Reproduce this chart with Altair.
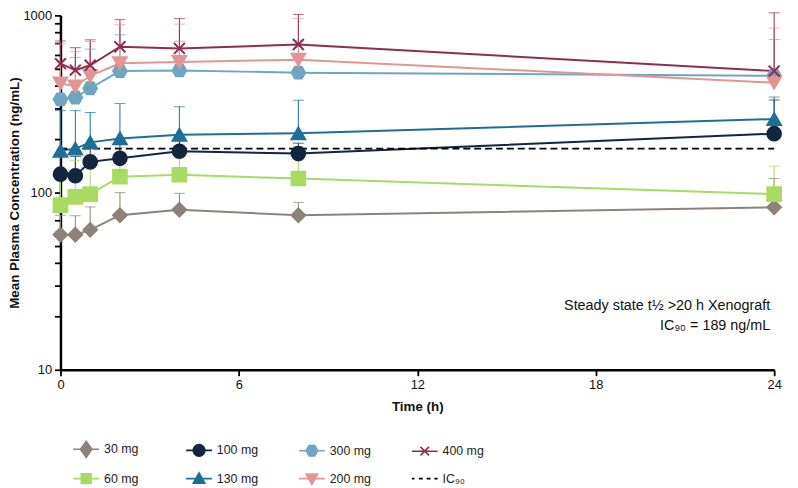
import altair as alt
import pandas as pd

# ---------------- data ----------------
times = [0, 0.5, 1, 2, 4, 8, 24]
dose_labels = ["30 mg", "60 mg", "100 mg", "130 mg", "200 mg", "300 mg", "400 mg"]

mean_30 = [57.8, 57.8, 61.6, 74.5, 80, 74.5, 82.6]
upper_30 = [74.5, 74, 83, 100, 99, 88, 120]
mean_60 = [85, 94.6, 98, 123, 126, 120, 98]
upper_60 = [130, 152, 165, 180, 195, 182, 141]
mean_100 = [127, 124.5, 149, 156, 171, 166, 215]
upper_100 = [165, 160, 180, 190, 200, 190, 333]
mean_130 = [172, 177, 192, 202, 212, 216, 260]
upper_130 = [290, 290, 283, 318, 305, 332, 346]
mean_200 = [413, 398, 456, 537, 546, 562, 417]
upper_200 = [690, 624, 712, 885, 893, 959, 848]
mean_300 = [336, 344, 388, 485, 489, 475, 456]
upper_300 = [420, 579, 645, 777, 714, 723, 730]
mean_400 = [534, 491, 523, 665, 651, 685, 485]
upper_400 = [717, 657, 728, 946, 959, 1012, 1034]

ic90_line = [177]
note_text = "Steady state t½ >20 h Xenograft\nIC₉₀ = 189 ng/mL"
ic90_label = "IC₉₀"

y_ticks = [10, 20, 30, 40, 50, 60, 70, 80, 90, 100, 200, 300, 400, 500, 600, 700, 800, 900, 1000]
x_ticks = [0, 6, 12, 18, 24]

colors = ["#8C8279", "#A9DB62", "#13263D", "#1D6F98", "#E39595", "#6EA5BF", "#8F2D50"]
hexagon = "M-1,0L-0.5,-0.866L0.5,-0.866L1,0L0.5,0.866L-0.5,0.866Z"
xshape = "M-0.8,-0.8L0.8,0.8M-0.8,0.8L0.8,-0.8"
shapes = ["diamond", "square", "circle", "triangle-up", "triangle-down", hexagon, xshape]

means = [mean_30, mean_60, mean_100, mean_130, mean_200, mean_300, mean_400]
uppers = [upper_30, upper_60, upper_100, upper_130, upper_200, upper_300, upper_400]

rows = []
for d, m, u in zip(dose_labels, means, uppers):
    for t, mv, uv in zip(times, m, u):
        rows.append({"dose": d, "t": t, "mean": mv, "upper": uv})
df = pd.DataFrame(rows)

draw_order = ["30 mg", "60 mg", "100 mg", "130 mg", "300 mg", "200 mg", "400 mg"]
df["ord"] = df["dose"].map({d: i for i, d in enumerate(draw_order)})
df = df.sort_values(["ord", "t"])

legend_order = ["30 mg", "100 mg", "300 mg", "400 mg", "60 mg", "130 mg", "200 mg", ic90_label]
line = "M-1,0L1,0"
leg_paths = {
    "30 mg": line + "M0,-0.62L0.45,0L0,0.62L-0.45,0Z",
    "60 mg": line + "M-0.38,-0.38L0.38,-0.38L0.38,0.38L-0.38,0.38Z",
    "100 mg": line + "M-0.45,0A0.45,0.45 0 1,0 0.45,0A0.45,0.45 0 1,0 -0.45,0Z",
    "130 mg": line + "M0,-0.45L0.45,0.35L-0.45,0.35Z",
    "200 mg": line + "M0,0.45L0.45,-0.35L-0.45,-0.35Z",
    "300 mg": line + "M-0.45,0L-0.22,-0.4L0.22,-0.4L0.45,0L0.22,0.4L-0.22,0.4Z",
    "400 mg": line + "M-0.33,-0.33L0.33,0.33M-0.33,0.33L0.33,-0.33",
    ic90_label: "M-1,0L-0.8,0M-0.45,0L-0.15,0M0.15,0L0.45,0M0.75,0L1,0",
}
col_map = dict(zip(dose_labels, colors))
col_map[ic90_label] = "#000000"
leg_df = pd.DataFrame({"key": legend_order})

TOP = 5
W, H = 721, 358

x_enc = alt.X("t:Q", scale=alt.Scale(domain=[0, 24], nice=False, zero=False),
              axis=alt.Axis(values=x_ticks, title="Time (h)", grid=False))
y_scale = alt.Scale(type="log", domain=[10, 1000], nice=False)
y_axis = alt.Axis(values=y_ticks, grid=False, title="Mean Plasma Concentration (ng/mL)",
                  labelExpr="(datum.value == 10 || datum.value == 100 || datum.value == 1000) ? format(datum.value, 'd') : ''")

col_scale = alt.Scale(domain=dose_labels, range=colors)
shape_scale = alt.Scale(domain=dose_labels, range=shapes)

base = alt.Chart(df)

err = base.mark_rule(strokeWidth=1).encode(
    x=x_enc,
    y=alt.Y("mean:Q", scale=y_scale, axis=y_axis),
    y2="upper:Q",
    color=alt.Color("dose:N", scale=col_scale, legend=None),
)
caps = base.mark_tick(orient="horizontal", size=11, thickness=1).encode(
    x="t:Q",
    y=alt.Y("upper:Q", scale=y_scale),
    color=alt.Color("dose:N", scale=col_scale, legend=None),
)
lines = base.mark_line(strokeWidth=2).encode(
    x="t:Q",
    y=alt.Y("mean:Q", scale=y_scale),
    color=alt.Color("dose:N", scale=col_scale, legend=None),
    detail="dose:N",
    order="t:Q",
)
pts = base.mark_point(filled=True, size=190, strokeWidth=2, opacity=1).encode(
    x="t:Q",
    y=alt.Y("mean:Q", scale=y_scale),
    shape=alt.Shape("dose:N", scale=shape_scale, legend=None),
    fill=alt.Fill("dose:N", scale=col_scale, legend=None),
    stroke=alt.Stroke("dose:N", scale=col_scale, legend=None),
)

ic_df = pd.DataFrame({"ic": ic90_line})
ic_rule = alt.Chart(ic_df).mark_rule(strokeDash=[7, 4], strokeWidth=1.6, color="black").encode(
    y=alt.Y("ic:Q", scale=y_scale), x=alt.value(0), x2=alt.value(W)
)

note_df = pd.DataFrame({"txt": [note_text]})
notes = alt.Chart(note_df).mark_text(align="right", baseline="middle", fontSize=14.5,
                                     font="Liberation Sans", color="#111",
                                     lineBreak="\n", lineHeight=20).encode(
    text="txt:N",
    x=alt.value(W - 4),
    y=alt.value(294),
)

leg_legend = alt.Legend(
    title=None, orient="none", legendX=12, legendY=429 - TOP, direction="horizontal",
    columns=4, gridAlign="all", columnPadding=37, rowPadding=4,
    symbolSize=676, symbolOpacity=1, symbolStrokeWidth=1.6, labelOffset=4,
    labelFont="Liberation Sans", labelFontSize=12.5, labelColor="#222", padding=0,
)
leg = alt.Chart(leg_df).mark_point(filled=True, size=676, opacity=0).encode(
    x=alt.value(-500), y=alt.value(-500),
    shape=alt.Shape("key:N", scale=alt.Scale(domain=legend_order, range=[leg_paths[k] for k in legend_order]),
                    legend=leg_legend, sort=legend_order),
    fill=alt.Fill("key:N", scale=alt.Scale(domain=legend_order, range=[col_map[k] for k in legend_order]),
                  legend=leg_legend, sort=legend_order),
    stroke=alt.Stroke("key:N", scale=alt.Scale(domain=legend_order, range=[col_map[k] for k in legend_order]),
                      legend=leg_legend, sort=legend_order),
)

chart = alt.layer(err, caps, lines, ic_rule, pts, notes, leg).resolve_scale(
    shape="independent", fill="independent", stroke="independent"
).properties(
    width=W, height=H,
    autosize=alt.AutoSizeParams(type="none"),
    padding={"left": 53, "top": TOP, "right": 16, "bottom": 480 - TOP - H},
).configure_view(stroke=None).configure_axis(
    domainColor="black", domainWidth=2.5, tickColor="black", tickWidth=1.8, tickSize=6,
    labelFont="Liberation Sans", labelFontSize=13, labelColor="#111", labelPadding=3,
    titleFont="Liberation Sans", titleFontSize=13.5, titleFontWeight="bold", titleColor="#111",
).configure_axisY(titlePadding=1.5).configure_axisX(titlePadding=8, labelFlush=False)

chart.save("out.html", embed_options={"renderer": "svg", "actions": False})
